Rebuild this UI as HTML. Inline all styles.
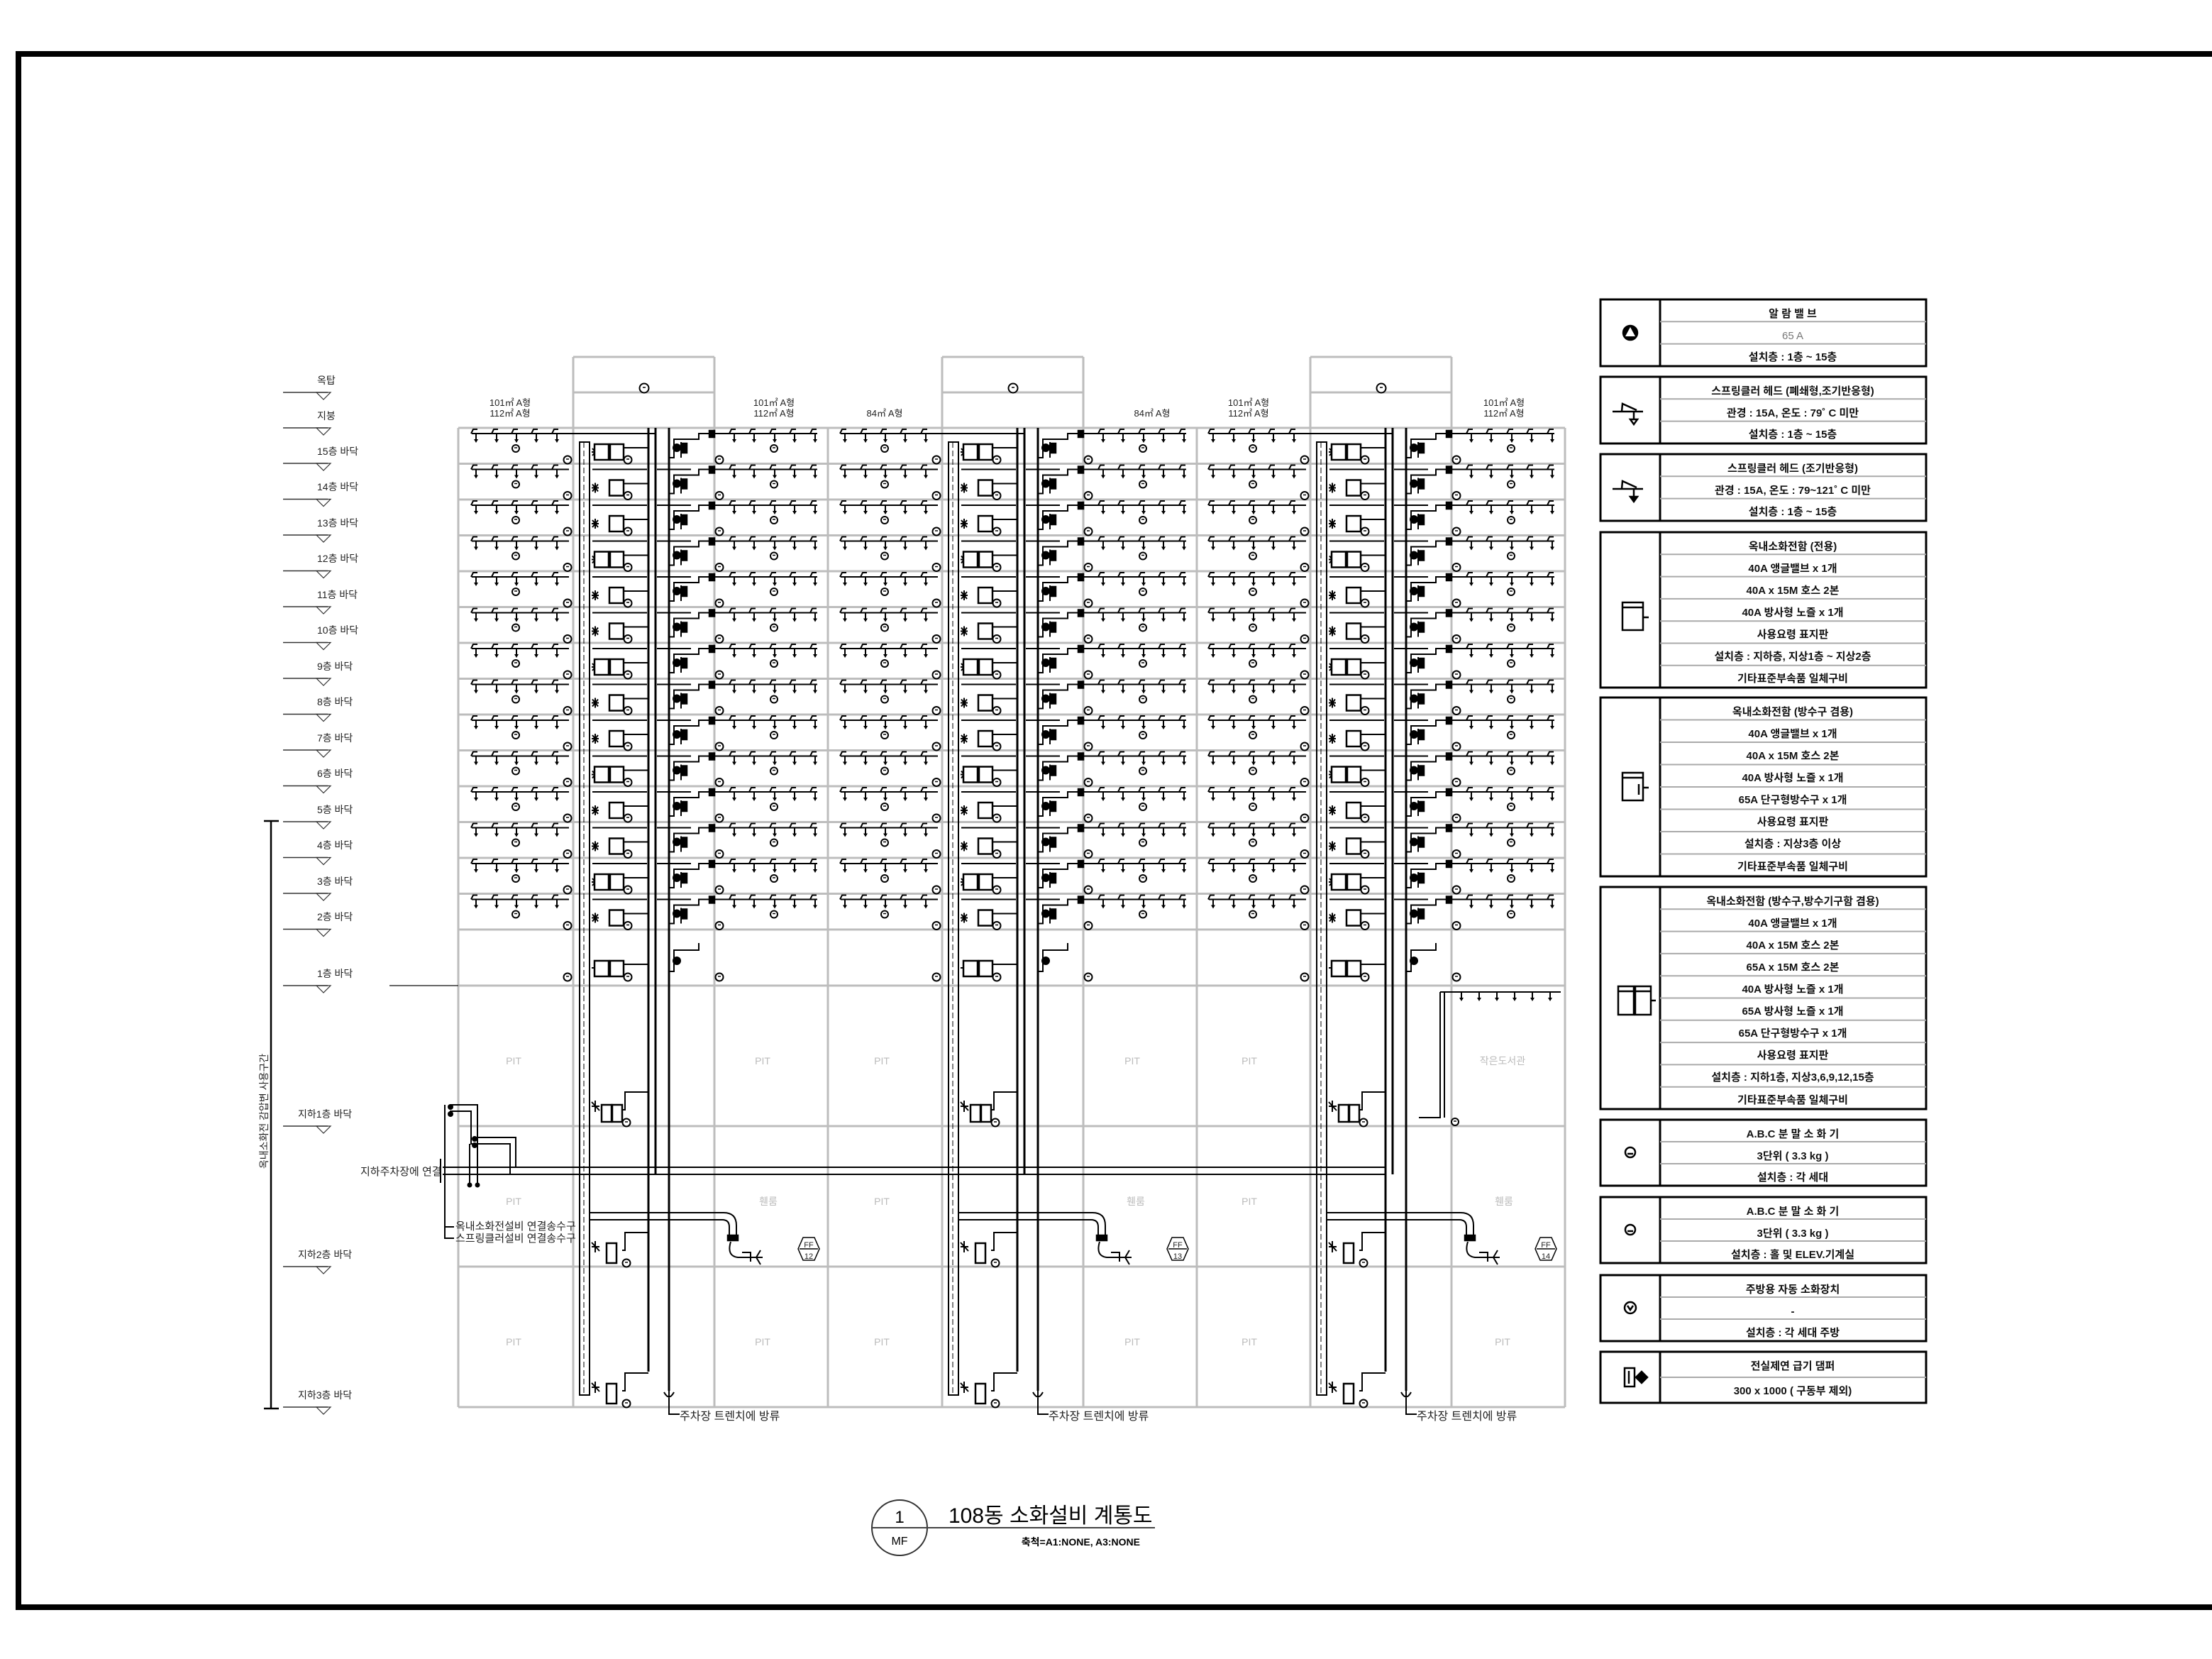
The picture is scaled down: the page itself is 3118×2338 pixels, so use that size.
<!DOCTYPE html>
<html><head><meta charset="utf-8">
<style>
html,body{margin:0;padding:0;background:#fff;}
svg{display:block;}
text{font-family:"Liberation Sans","Noto Sans CJK KR",sans-serif;}
.lg{font-size:15px;font-weight:bold;text-anchor:middle;fill:#111;}
.lv{font-size:14px;fill:#222;}
.pit{font-size:14px;fill:#bbb;text-anchor:middle;}
.ut{font-size:13px;fill:#222;text-anchor:middle;}
</style></head>
<body>
<svg id="s" width="3118" height="2338" viewBox="0 0 3118 2338" xmlns="http://www.w3.org/2000/svg">
<rect width="3118" height="2338" fill="#fff"/>
<path d="M22 76H3118M26 76V2265M22 2265H3118" stroke="#000" stroke-width="8" fill="none"/>

<g id="grid"></g>
<g id="gen"></g>

<g class="lv">
<text x="447" y="541">옥탑</text>
<text x="447" y="591">지붕</text>
<text x="447" y="641">15층 바닥</text>
<text x="447" y="691">14층 바닥</text>
<text x="447" y="742">13층 바닥</text>
<text x="447" y="792">12층 바닥</text>
<text x="447" y="843">11층 바닥</text>
<text x="447" y="893">10층 바닥</text>
<text x="447" y="944">9층 바닥</text>
<text x="447" y="994">8층 바닥</text>
<text x="447" y="1045">7층 바닥</text>
<text x="447" y="1095">6층 바닥</text>
<text x="447" y="1146">5층 바닥</text>
<text x="447" y="1196">4층 바닥</text>
<text x="447" y="1247">3층 바닥</text>
<text x="447" y="1297">2층 바닥</text>
<text x="447" y="1377">1층 바닥</text>
<text x="420" y="1575">지하1층 바닥</text>
<text x="420" y="1773">지하2층 바닥</text>
<text x="420" y="1971">지하3층 바닥</text>
</g>
<text x="0" y="0" class="lv" transform="translate(377,1566) rotate(-90)" text-anchor="middle">옥내소화전 감압변 사용구간</text>
<text x="508" y="1656" class="lv" style="font-size:15px">지하주차장에 연결</text>
<text x="642" y="1733" class="lv" style="font-size:15px">옥내소화전설비 연결송수구</text>
<text x="642" y="1750" class="lv" style="font-size:15px">스프링클러설비 연결송수구</text>

<g class="ut">
<text x="719" y="572">101㎡ A형</text><text x="719" y="587">112㎡ A형</text>
<text x="1091" y="572">101㎡ A형</text><text x="1091" y="587">112㎡ A형</text>
<text x="1247" y="587">84㎡ A형</text>
<text x="1624" y="587">84㎡ A형</text>
<text x="1760" y="572">101㎡ A형</text><text x="1760" y="587">112㎡ A형</text>
<text x="2120" y="572">101㎡ A형</text><text x="2120" y="587">112㎡ A형</text>
</g>

<g class="pit">
<text x="724" y="1500">PIT</text><text x="1075" y="1500">PIT</text><text x="1243" y="1500">PIT</text><text x="1596" y="1500">PIT</text><text x="1761" y="1500">PIT</text><text x="2118" y="1500">작은도서관</text>
<text x="724" y="1698">PIT</text><text x="1083" y="1698">휀룸</text><text x="1243" y="1698">PIT</text><text x="1601" y="1698">휀룸</text><text x="1761" y="1698">PIT</text><text x="2120" y="1698">휀룸</text>
<text x="724" y="1896">PIT</text><text x="1075" y="1896">PIT</text><text x="1243" y="1896">PIT</text><text x="1596" y="1896">PIT</text><text x="1761" y="1896">PIT</text><text x="2118" y="1896">PIT</text>
</g>

<g class="lv" style="font-size:16px">
<text x="958" y="2001">주차장 트렌치에 방류</text>
<text x="1478" y="2001">주차장 트렌치에 방류</text>
<text x="1997" y="2001">주차장 트렌치에 방류</text>
</g>
<g style="font-size:11px" text-anchor="middle" fill="#222">
<text x="1140" y="1758">FF</text><text x="1140" y="1774">12</text>
<text x="1660" y="1758">FF</text><text x="1660" y="1774">13</text>
<text x="2179" y="1758">FF</text><text x="2179" y="1774">14</text>
</g>

<circle cx="1268" cy="2153" r="39" fill="none" stroke="#333" stroke-width="2"/>
<path d="M1229 2153H1628" stroke="#444" stroke-width="2"/>
<text x="1268" y="2146" text-anchor="middle" style="font-size:24px">1</text>
<text x="1268" y="2177" text-anchor="middle" style="font-size:16px">MF</text>
<text x="1337" y="2146" style="font-size:30px">108동 소화설비 계통도</text>
<text x="1607" y="2178" text-anchor="end" style="font-size:14px;font-weight:bold">축척=A1:NONE, A3:NONE</text>

<g id="legend" fill="none" stroke="#000" stroke-width="3">
<rect x="2256" y="422" width="459" height="94"/><line x1="2340" y1="422" x2="2340" y2="516"/>
<rect x="2256" y="531" width="459" height="94"/><line x1="2340" y1="531" x2="2340" y2="625"/>
<rect x="2256" y="640" width="459" height="94"/><line x1="2340" y1="640" x2="2340" y2="734"/>
<rect x="2256" y="750" width="459" height="219"/><line x1="2340" y1="750" x2="2340" y2="969"/>
<rect x="2256" y="983" width="459" height="252"/><line x1="2340" y1="983" x2="2340" y2="1235"/>
<rect x="2256" y="1250" width="459" height="313"/><line x1="2340" y1="1250" x2="2340" y2="1563"/>
<rect x="2256" y="1578" width="459" height="93"/><line x1="2340" y1="1578" x2="2340" y2="1671"/>
<rect x="2256" y="1687" width="459" height="93"/><line x1="2340" y1="1687" x2="2340" y2="1780"/>
<rect x="2256" y="1797" width="459" height="93"/><line x1="2340" y1="1797" x2="2340" y2="1890"/>
<rect x="2256" y="1905" width="459" height="72"/><line x1="2340" y1="1905" x2="2340" y2="1977"/>
</g>
<g id="lrows"></g>
<g class="lg">
<text x="2527" y="447">알 람 밸 브</text>
<text x="2527" y="478" style="font-weight:normal;fill:#777">65 A</text>
<text x="2527" y="508">설치층 : 1층 ~ 15층</text>
<text x="2527" y="556">스프링클러 헤드 (폐쇄형,조기반응형)</text>
<text x="2527" y="587">관경 : 15A, 온도 : 79˚ C 미만</text>
<text x="2527" y="617">설치층 : 1층 ~ 15층</text>
<text x="2527" y="665">스프링클러 헤드 (조기반응형)</text>
<text x="2527" y="696">관경 : 15A, 온도 : 79~121˚ C 미만</text>
<text x="2527" y="726">설치층 : 1층 ~ 15층</text>
<text x="2527" y="775">옥내소화전함 (전용)</text>
<text x="2527" y="806">40A 앵글밸브 x 1개</text>
<text x="2527" y="837">40A x 15M 호스 2본</text>
<text x="2527" y="868">40A 방사형 노즐 x 1개</text>
<text x="2527" y="899">사용요령 표지판</text>
<text x="2527" y="930">설치층 : 지하층, 지상1층 ~ 지상2층</text>
<text x="2527" y="961">기타표준부속품 일체구비</text>
<text x="2527" y="1008">옥내소화전함 (방수구 겸용)</text>
<text x="2527" y="1039">40A 앵글밸브 x 1개</text>
<text x="2527" y="1070">40A x 15M 호스 2본</text>
<text x="2527" y="1101">40A 방사형 노즐 x 1개</text>
<text x="2527" y="1132">65A 단구형방수구 x 1개</text>
<text x="2527" y="1163">사용요령 표지판</text>
<text x="2527" y="1194">설치층 : 지상3층 이상</text>
<text x="2527" y="1226">기타표준부속품 일체구비</text>
<text x="2527" y="1275">옥내소화전함 (방수구,방수기구함 겸용)</text>
<text x="2527" y="1306">40A 앵글밸브 x 1개</text>
<text x="2527" y="1337">40A x 15M 호스 2본</text>
<text x="2527" y="1368">65A x 15M 호스 2본</text>
<text x="2527" y="1399">40A 방사형 노즐 x 1개</text>
<text x="2527" y="1430">65A 방사형 노즐 x 1개</text>
<text x="2527" y="1461">65A 단구형방수구 x 1개</text>
<text x="2527" y="1492">사용요령 표지판</text>
<text x="2527" y="1523">설치층 : 지하1층, 지상3,6,9,12,15층</text>
<text x="2527" y="1555">기타표준부속품 일체구비</text>
<text x="2527" y="1603">A.B.C 분 말 소 화 기</text>
<text x="2527" y="1634">3단위 ( 3.3 kg )</text>
<text x="2527" y="1664">설치층 : 각 세대</text>
<text x="2527" y="1712">A.B.C 분 말 소 화 기</text>
<text x="2527" y="1743">3단위 ( 3.3 kg )</text>
<text x="2527" y="1773">설치층 : 홀 및 ELEV.기계실</text>
<text x="2527" y="1822">주방용 자동 소화장치</text>
<text x="2527" y="1853">-</text>
<text x="2527" y="1883">설치층 : 각 세대 주방</text>
<text x="2527" y="1930">전실제연 급기 댐퍼</text>
<text x="2527" y="1965">300 x 1000 ( 구동부 제외)</text>
</g>
<g stroke="#000" stroke-width="2.5" fill="none">
<circle cx="2298" cy="469" r="10" fill="#000"/>
<path d="M2298 461L2305 474H2291Z" fill="#fff" stroke="none"/>
<path d="M2273 580H2316M2286 580L2287 569L2307 578M2303 580V592" /><path d="M2298 591H2308L2303 598Z" fill="#fff"/>
<path d="M2273 689H2316M2286 689L2287 678L2307 687M2303 689V701" /><path d="M2298 700H2308L2303 707Z" fill="#000"/>
<rect x="2287" y="849" width="29" height="39"/><path d="M2287 856H2316M2316 870H2324"/>
<rect x="2287" y="1089" width="29" height="39"/><path d="M2287 1096H2316M2316 1110H2324M2310 1105V1120"/>
<rect x="2281" y="1390" width="22" height="40"/><rect x="2305" y="1390" width="22" height="40"/><path d="M2281 1397H2327M2327 1410H2334"/>
<circle cx="2298" cy="1624" r="7"/><path d="M2294 1626H2302"/>
<circle cx="2298" cy="1733" r="7"/><path d="M2294 1735H2302"/>
<circle cx="2298" cy="1843" r="8"/><path d="M2294 1840L2298 1846L2302 1840"/>
<rect x="2290" y="1928" width="14" height="26"/><path d="M2306 1941L2314 1933L2322 1941L2314 1949Z" fill="#000"/><path d="M2296 1932V1950"/>
</g>
</svg>
<script>
(function(){
var S='http://www.w3.org/2000/svg';
function add(parent,tag,attrs){var e=document.createElementNS(S,tag);for(var k in attrs)e.setAttribute(k,attrs[k]);parent.appendChild(e);return e;}
var grid=document.getElementById('grid'), gen=document.getElementById('gen'), lrows=document.getElementById('lrows');
var lr='';
function rows(top,n,h){for(var i=1;i<n;i++){var y=top+h*i;lr+='M2340 '+y+'H2715';}}
rows(422,3,31.3);rows(531,3,31.3);rows(640,3,31.3);rows(750,7,31.3);rows(983,8,31.5);rows(1250,10,31.3);rows(1578,3,31);rows(1687,3,31);rows(1797,3,31);rows(1905,2,36);
add(lrows,'path',{d:lr,stroke:'#aaa','stroke-width':2,fill:'none'});
var gd='';
var cols=[646,808,1007,1167,1328,1527,1687,1847,2046,2206];
cols.forEach(function(x){gd+='M'+x+' 603V1983';});
var floors=[603];for(var i=1;i<=14;i++)floors.push(603+50.5*i);floors.push(1389,1587,1785,1983);
floors.forEach(function(y){gd+='M646 '+y+'H2206';});
[0,520,1039].forEach(function(o){gd+='M'+(808+o)+' 503V603M'+(1007+o)+' 503V603M'+(808+o)+' 503H'+(1007+o)+'M'+(808+o)+' 553H'+(1007+o);});
add(grid,'path',{d:gd,stroke:'#bdbdbd','stroke-width':3,fill:'none'});
var ld='',tri='';
var lv=[553,603,653,703.5,754,804.5,855,905.5,956,1006.5,1057,1107.5,1158,1208.5,1259,1309.5,1389,1587,1785,1983];
lv.forEach(function(y){ld+='M399 '+y+'H462';tri+='M446 '+y+'H466L456 '+(y+10)+'Z';});
ld+='M549 1389H646';
add(gen,'path',{d:ld,stroke:'#333','stroke-width':1.5,fill:'none'});
add(gen,'path',{d:tri,stroke:'#333','stroke-width':1.2,fill:'none'});
add(gen,'path',{d:'M382 1157V1985M372 1157H393M372 1985H393',stroke:'#000','stroke-width':2.5,fill:'none'});
var bd='',fd='',cir=[],fc=[],rects=[];
var wide={0:1,3:1,6:1,9:1,12:1};
[0,520,1039].forEach(function(o){
 cir.push([908+o,547,6.5]);
 for(var i=0;i<14;i++){
  var t=603+50.5*i, y=t+8;
  bd+='M'+(665+o)+' '+y+'H'+(802+o);
  [671,700,728,756,785].forEach(function(x){x+=o;bd+='M'+x+' '+y+'V'+(y+8)+'M'+(x-7)+' '+y+'L'+(x-4)+' '+(y-6)+'H'+(x+2);fd+='M'+(x-3)+' '+(y+8)+'H'+(x+3)+'L'+x+' '+(y+13)+'Z';});
  [1035,1063,1092,1120,1149].forEach(function(x){x+=o;bd+='M'+x+' '+y+'V'+(y+8)+'M'+(x-7)+' '+y+'L'+(x-4)+' '+(y-6)+'H'+(x+2);fd+='M'+(x-3)+' '+(y+8)+'H'+(x+3)+'L'+x+' '+(y+13)+'Z';});
  bd+='M'+(1004+o)+' '+y+'H'+(1152+o);
  if(i==0){bd+='M'+(802+o)+' '+y+'H'+(924+o);}else{bd+='M'+(835+o)+' '+y+'H'+(912+o)+'M'+(926+o)+' '+y+'H'+(974+o);}
  cir.push([727+o,t+29,5],[1091+o,t+29,5],[800+o,t+45,5.5],[1014+o,t+45,5.5],[885+o,t+45,5.5]);
  if(wide[i]){rects.push([838+o,t+23,20,22],[860+o,t+23,19,22]);}else{rects.push([859+o,t+23,20,22]);}
  bd+='M'+(879+o)+' '+(t+28)+'H'+(914+o);
  var mx=838+o,my=t+34;
  bd+='M'+(mx-4)+' '+my+'H'+(mx+6)+'M'+(mx+1)+' '+(my-7)+'V'+(my+7)+'M'+(mx-3)+' '+(my-5)+'L'+(mx+5)+' '+(my+5)+'M'+(mx-3)+' '+(my+5)+'L'+(mx+5)+' '+(my-5);
  fc.push([954+o,t+28,6]);rects.push([962+o,t+22,6,13,1]);
  bd+='M'+(943+o)+' '+(t+42)+'H'+(950+o)+'V'+(t+16)+'H'+(985+o)+'V'+y+'H'+(1004+o)+'M'+(960+o)+' '+(t+42)+'V'+(t+20);
  rects.push([1000+o,y-4,7,9,1]);
 }
 var t=1309;
 rects.push([838+o,t+45,20,22],[860+o,t+45,19,22]);cir.push([885+o,t+68,5.5],[800+o,t+68,5.5],[1014+o,t+68,5.5]);
 bd+='M'+(879+o)+' '+(t+50)+'H'+(914+o);
 bd+='M'+(834+o)+' '+(t+55)+'H'+(844+o)+'M'+(839+o)+' '+(t+48)+'V'+(t+62);
 fc.push([954+o,t+45,6]);bd+='M'+(943+o)+' '+(t+60)+'H'+(950+o)+'V'+(t+30)+'H'+(985+o)+'V'+(t+20);
 [[1389,1],[1587,0],[1785,0]].forEach(function(b){var tt=b[0];
  if(b[1]){rects.push([848+o,tt+168,14,24],[863+o,tt+168,14,24]);}else{rects.push([855+o,tt+165,14,28]);}
  cir.push([883+o,tt+193,5.5]);
  bd+='M'+(914+o)+' '+(tt+150)+'H'+(881+o)+'V'+(tt+175)+'H'+(877+o);
  bd+='M'+(834+o)+' '+(tt+170)+'H'+(845+o)+'M'+(839+o)+' '+(tt+162)+'V'+(tt+178)+'M'+(834+o)+' '+(tt+164)+'L'+(845+o)+' '+(tt+176);
 });
 add(gen,'path',{d:'M'+(914+o)+' 603V1933M'+(924+o)+' 603V1655M'+(943+o)+' 603V1960',stroke:'#000','stroke-width':3,fill:'none'});
 add(gen,'rect',{x:817+o,y:623,width:14,height:1343,fill:'none',stroke:'#000','stroke-width':2});
 add(gen,'path',{d:'M'+(823+o)+' 623V1966',stroke:'#000','stroke-width':1,'stroke-dasharray':'8 4',fill:'none'});
 bd+='M'+(943+o)+' 1960V1993H'+(958+o)+'M'+(936+o)+' 1962Q'+(943+o)+' 1975 '+(950+o)+' 1962';
 bd+='M'+(831+o)+' 1709H'+(1020+o)+'Q'+(1038+o)+' 1709 '+(1038+o)+' 1727V1742M'+(831+o)+' 1719H'+(1018+o)+'Q'+(1028+o)+' 1719 '+(1028+o)+' 1729V1742';
 rects.push([1026+o,1741,14,7,1]);
 bd+='M'+(1030+o)+' 1750Q'+(1024+o)+' 1770 '+(1040+o)+' 1772H'+(1075+o)+'M'+(1066+o)+' 1772L'+(1072+o)+' 1762M'+(1066+o)+' 1772L'+(1072+o)+' 1782M'+(1046+o)+' 1765H'+(1058+o)+'V1778';
 add(gen,'path',{d:'M'+(1125+o)+' 1760L'+(1132+o)+' 1744H'+(1148+o)+'L'+(1155+o)+' 1760L'+(1148+o)+' 1776H'+(1132+o)+'Z M'+(1127+o)+' 1760H'+(1153+o),stroke:'#000','stroke-width':1.5,fill:'#fff'});
});
bd+='M2030 1398H2200';[2060,2085,2110,2135,2160,2185].forEach(function(x){bd+='M'+x+' 1398V1408';fd+='M'+(x-3)+' 1406H'+(x+3)+'L'+x+' 1411Z';});
bd+='M2030 1398V1575H2000M2036 1398V1575';
cir.push([2051,1581,5]);
bd+='M624 1645H1953M624 1655H1953M621 1633V1667';
bd+='M627 1557V1745H640M627 1729H640M634 1557H673V1603H727V1645M634 1566H664V1612H719V1655M662 1612V1672M673 1603V1672';
fc.push([635,1560,4],[635,1570,4],[669,1605,4],[669,1614,4],[662,1670,3.5],[673,1670,3.5]);
add(gen,'path',{d:bd,stroke:'#000','stroke-width':2,fill:'none'});
add(gen,'path',{d:fd,fill:'#000',stroke:'none'});
cir.forEach(function(c){add(gen,'circle',{cx:c[0],cy:c[1],r:c[2],fill:'#fff',stroke:'#000','stroke-width':2});add(gen,'path',{d:'M'+(c[0]-2)+' '+(c[1]-1)+'h4',stroke:'#000','stroke-width':1.5});});
fc.forEach(function(c){add(gen,'circle',{cx:c[0],cy:c[1],r:c[2],fill:'#000'});});
rects.forEach(function(r){add(gen,'rect',{x:r[0],y:r[1],width:r[2],height:r[3],fill:r[4]?'#000':'#fff',stroke:'#000','stroke-width':2.5});});
})();
</script>
</body></html>
